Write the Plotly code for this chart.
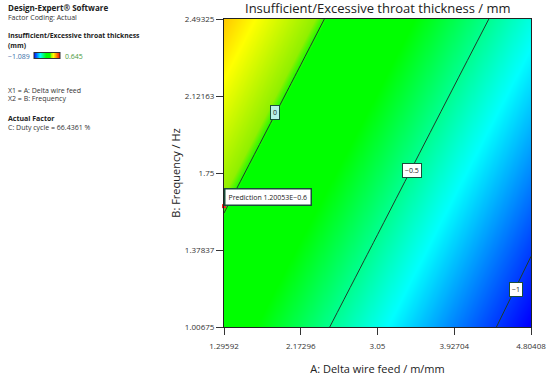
import plotly.graph_objects as go

# ---- data ----
x_ticks = [1.29592, 2.17296, 3.05, 3.92704, 4.80408]
y_ticks = [1.00675, 1.37837, 1.75, 2.12163, 2.49325]
x_ticktext = ["1.29592", "2.17296", "3.05", "3.92704", "4.80408"]
y_ticktext = ["1.00675", "1.37837", "1.75", "2.12163", "2.49325"]
# response (mm) at grid of ticks; rows follow y_ticks, columns follow x_ticks
z_grid = [
    [-0.178, -0.412, -0.645, -0.878, -1.100],
    [-0.058, -0.291, -0.524, -0.758, -0.991],
    [0.063, -0.170, -0.403, -0.637, -0.870],
    [0.184, -0.049, -0.282, -0.516, -0.749],
    [0.305, 0.072, -0.162, -0.395, -0.628],
]
z_min, z_max = -1.089, 0.645
contour_levels = [-1.0, -0.5, 0.0]
contour_labels = ["−1", "−0.5", "0"]
label_x = [4.632, 3.442, 1.874]
label_y = [1.190, 1.763, 2.043]
pred_x = [1.29592]
pred_y = [1.59]
pred_text = "Prediction 1.20053E−0.6"

W, H = 550, 377
PL, PR, PT, PB = 224, 531, 19, 327   # plot-area pixel box


def fx(p):
    return p / W


def fy(p):
    return 1 - p / H


cscale = [[0, "#0000ff"], [0.24, "#00ffff"], [0.47, "#00ff00"],
          [0.625, "#00ff00"], [0.645, "#90f000"], [0.75, "#ffff00"],
          [1, "#ff0000"]]
FONT = "Open Sans"

fig = go.Figure()
fig.add_trace(go.Heatmap(
    x=x_ticks, y=y_ticks, z=z_grid, zmin=z_min, zmax=z_max,
    colorscale=cscale, zsmooth="best", hoverinfo="skip",
    colorbar=dict(orientation="h", x=fx(34), xanchor="left",
                  y=fy(56), yanchor="middle", lenmode="pixels", len=26,
                  thickness=6, xpad=0, ypad=0, showticklabels=False,
                  ticks="", outlinewidth=1, outlinecolor="#333"),
))
fig.add_trace(go.Contour(
    x=x_ticks, y=y_ticks, z=z_grid, showscale=False, hoverinfo="skip",
    contours=dict(coloring="none", start=contour_levels[0],
                  end=contour_levels[-1], size=0.5),
    line=dict(color="#1e3d2a", width=1),
))
fig.add_trace(go.Scatter(
    x=pred_x, y=pred_y, mode="markers", hoverinfo="skip", cliponaxis=False,
    marker=dict(color="#ff2020", size=4, symbol="square"), showlegend=False,
))

ann = []
for lx, ly, t in zip(label_x, label_y, contour_labels):
    ann.append(dict(x=lx, y=ly, xref="x", yref="y", text=t, showarrow=False,
                    font=dict(size=7, color="#222", family=FONT),
                    bgcolor="#ffffff" if t != "0" else "#b8f0e8",
                    bordercolor="#1a4d3a", borderwidth=1, borderpad=2))
ann.append(dict(x=pred_x[0], y=pred_y[0], xref="x", yref="y",
                xanchor="left", yanchor="bottom", text=pred_text,
                showarrow=False, font=dict(size=7, color="#222", family=FONT),
                bgcolor="#ffffff", bordercolor="#1a4d3a", borderwidth=1.5,
                borderpad=3))

left_texts = [
    ("<b>Design-Expert® Software</b>", 7, "#222", 8),
    ("Factor Coding: Actual", 17, "#333", 7),
    ("<b>Insufficient/Excessive throat thickness</b>", 36, "#222", 6.8),
    ("<b>(mm)</b>", 45, "#222", 6.8),
    ("X1 = A: Delta wire feed", 90, "#333", 7),
    ("X2 = B: Frequency", 99, "#333", 7),
    ("<b>Actual Factor</b>", 118, "#222", 7),
    ("C: Duty cycle = 66.4361 %", 128, "#333", 7),
]
for t, yy, c, s in left_texts:
    ann.append(dict(x=fx(6), y=fy(yy), xref="paper", yref="paper",
                    xanchor="left", yanchor="middle", text=t, showarrow=False,
                    font=dict(size=s, color=c, family=FONT)))
ann.append(dict(x=fx(6), y=fy(57), xref="paper", yref="paper",
                xanchor="left", yanchor="middle", text="−1.089",
                showarrow=False, font=dict(size=7, color="#3b6fa8", family=FONT)))
ann.append(dict(x=fx(63), y=fy(57), xref="paper", yref="paper",
                xanchor="left", yanchor="middle", text="0.645",
                showarrow=False, font=dict(size=7, color="#4c9a3c", family=FONT)))
ann.append(dict(x=fx((PL + PR) / 2), y=fy(8), xref="paper", yref="paper",
                xanchor="center", yanchor="middle",
                text="Insufficient/Excessive throat thickness / mm",
                showarrow=False, font=dict(size=13, color="#222", family=FONT)))

fig.update_layout(
    width=W, height=H, margin=dict(l=0, r=0, t=0, b=0),
    paper_bgcolor="white", plot_bgcolor="white", showlegend=False,
    font=dict(family=FONT, color="#333"),
    annotations=ann,
)
fig.update_xaxes(domain=[fx(PL), fx(PR)],
                 range=[x_ticks[0], x_ticks[-1]], tickvals=x_ticks,
                 ticktext=x_ticktext, ticks="outside", ticklen=7,
                 tickcolor="#333", showline=True, mirror=True,
                 linecolor="#222", linewidth=1, showgrid=False, zeroline=False,
                 ticklabeloverflow="allow", automargin=False,
                 ticklabelstandoff=4,
                 tickfont=dict(size=8, color="#333"),
                 title=dict(text="A: Delta wire feed / m/mm",
                            font=dict(size=11, color="#222"), standoff=15))
fig.update_yaxes(domain=[fy(PB), fy(PT)],
                 range=[y_ticks[0], y_ticks[-1]], tickvals=y_ticks,
                 ticktext=y_ticktext, ticks="outside", ticklen=7,
                 tickcolor="#333", showline=True, mirror=True,
                 linecolor="#222", linewidth=1, showgrid=False, zeroline=False,
                 automargin=False,
                 tickfont=dict(size=8, color="#333"),
                 title=dict(text="B: Frequency / Hz",
                            font=dict(size=11, color="#222"), standoff=2))

fig.write_html("out.html", config={"displayModeBar": False},
               post_script="document.body.style.margin='0';"
                           "document.body.style.overflow='hidden';")
